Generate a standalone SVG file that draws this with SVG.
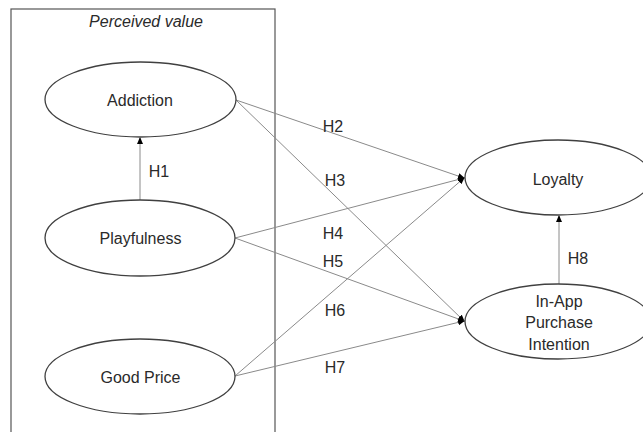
<svg xmlns="http://www.w3.org/2000/svg" width="643" height="432" viewBox="0 0 643 432">
  <style>
    .node ellipse { fill: #ffffff; stroke: #404040; stroke-width: 1.3; }
    text { font-family: "Liberation Sans", Arial, sans-serif; font-size: 16px; fill: #2a2a2a; text-anchor: middle; }
    .conn line { stroke: #8a8a8a; stroke-width: 1; }
    .label { font-size: 16px; }
  </style>
  <defs>
    <marker id="arrow" markerUnits="userSpaceOnUse" markerWidth="7" markerHeight="6" refX="6" refY="3" orient="auto">
      <path d="M0,0 L7,3 L0,6 Z" fill="#000000"/>
    </marker>
  </defs>
  <rect width="643" height="432" fill="#ffffff"/>

  <g id="perceived-value">
    <rect x="11" y="9" width="264" height="440" fill="none" stroke="#555555" stroke-width="1.2"/>
    <text x="146" y="27" font-style="italic" font-size="17">Perceived value</text>
  </g>

  <g id="connectors" class="conn">
    <line x1="140" y1="200" x2="140" y2="138" marker-end="url(#arrow)"/>
    <line x1="236" y1="100" x2="464" y2="178" marker-end="url(#arrow)"/>
    <line x1="236" y1="100" x2="464" y2="321" marker-end="url(#arrow)"/>
    <line x1="235" y1="238" x2="464" y2="178" marker-end="url(#arrow)"/>
    <line x1="235" y1="238" x2="464" y2="321" marker-end="url(#arrow)"/>
    <line x1="235" y1="376" x2="464" y2="178" marker-end="url(#arrow)"/>
    <line x1="235" y1="376" x2="464" y2="321" marker-end="url(#arrow)"/>
    <line x1="559" y1="284" x2="559" y2="216" marker-end="url(#arrow)"/>
    <text class="label" x="159" y="177">H1</text>
    <text class="label" x="333" y="132">H2</text>
    <text class="label" x="335" y="186">H3</text>
    <text class="label" x="333" y="239">H4</text>
    <text class="label" x="333" y="267">H5</text>
    <text class="label" x="335" y="316">H6</text>
    <text class="label" x="335" y="373">H7</text>
    <text class="label" x="578" y="264">H8</text>
  </g>

  <g id="addiction" class="node">
    <ellipse cx="140.5" cy="99.5" rx="95.5" ry="37.5"/>
    <text x="140" y="106" font-size="18" fill="#111111">Addiction</text>
  </g>
  <g id="playfulness" class="node">
    <ellipse cx="140" cy="238" rx="95" ry="38"/>
    <text x="140.5" y="244">Playfulness</text>
  </g>
  <g id="good-price" class="node">
    <ellipse cx="140" cy="376.5" rx="95" ry="37.5"/>
    <text x="140.5" y="383">Good Price</text>
  </g>
  <g id="loyalty" class="node">
    <ellipse cx="558" cy="177.5" rx="93" ry="37.5"/>
    <text x="558" y="185">Loyalty</text>
  </g>
  <g id="in-app-purchase-intention" class="node">
    <ellipse cx="558" cy="321.5" rx="93" ry="37.5"/>
    <text x="559" y="307">In-App</text>
    <text x="559" y="328">Purchase</text>
    <text x="559" y="350">Intention</text>
  </g>
</svg>
